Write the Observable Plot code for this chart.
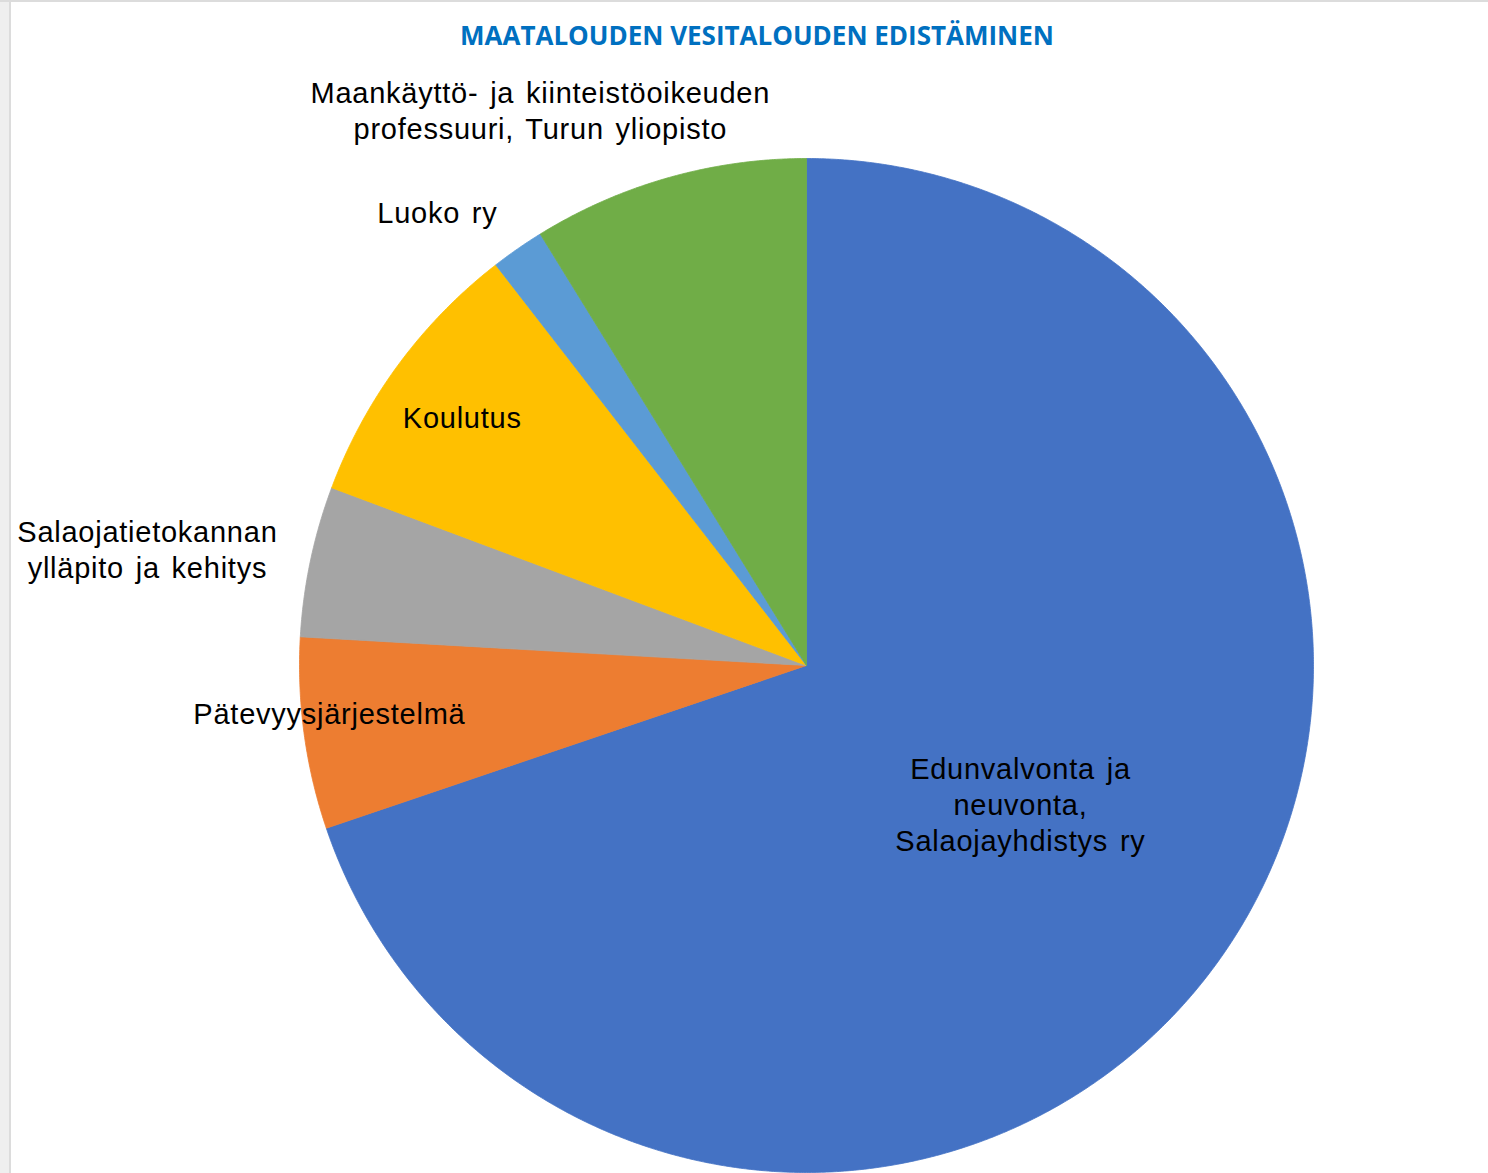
<!DOCTYPE html>
<html>
<head>
<meta charset="utf-8">
<script src="https://cdn.jsdelivr.net/npm/d3@7"></script>
<script src="https://cdn.jsdelivr.net/npm/@observablehq/plot@0.6"></script>
<style>
  html, body { margin: 0; padding: 0; background: #ffffff; }
  #page { position: relative; width: 1488px; height: 1173px; overflow: hidden; background: #ffffff; }
  #edgeLeft { position: absolute; left: 0; top: 0; width: 9px; height: 1173px; background: #efefef; border-right: 2px solid #dcdcdc; }
  #edgeTop { position: absolute; left: 0; top: 0; width: 1488px; height: 2px; background: #dcdcdc; }
  #title { position: absolute; left: 0; top: 0; width: 1488px; height: 70px; line-height: 70px; text-align: center;
           font-family: "Open Sans", "Liberation Sans", sans-serif; font-weight: 700; font-size: 26px; color: #0070C0;
           padding-left: 26px; box-sizing: border-box; }
  #chart { position: absolute; left: 0; top: 70px; }
  #chart g[aria-label="text"] text { letter-spacing: 0.75px; word-spacing: 3px; }
</style>
</head>
<body>
<div id="page">
  <div id="edgeLeft"></div>
  <div id="edgeTop"></div>
  <div id="title">MAATALOUDEN VESITALOUDEN EDISTÄMINEN</div>
  <div id="chart"></div>
</div>
<script>
// ---- data ----
const categories = [
  "Edunvalvonta ja neuvonta, Salaojayhdistys ry",
  "Pätevyysjärjestelmä",
  "Salaojatietokannan ylläpito ja kehitys",
  "Koulutus",
  "Luoko ry",
  "Maankäyttö- ja kiinteistöoikeuden professuuri, Turun yliopisto"
];
const values = [69.8, 6.1, 4.8, 8.8, 1.7, 8.8];
const labelText = [
  "Edunvalvonta ja\nneuvonta,\nSalaojayhdistys ry",
  "Pätevyysjärjestelmä",
  "Salaojatietokannan\nylläpito ja kehitys",
  "Koulutus",
  "Luoko ry",
  "Maankäyttö- ja kiinteistöoikeuden\nprofessuuri, Turun yliopisto"
];

// ---- styles / layout ----
const colors = ["#4472C4", "#ED7D31", "#A5A5A5", "#FFC000", "#5B9BD5", "#70AD47"];
const W = 1488, H = 1103;
const CX = 806, CY = 595, R = 507;         // pie centre and radius in SVG pixels
// label centres, in pie-radius units relative to the centre (y up)
const labelPos = [
  [0.422, -0.272],
  [-0.941, -0.093],
  [-1.300, 0.231],
  [-0.679, 0.491],
  [-0.728, 0.895],
  [-0.525, 1.097]
];

// ---- build slices with d3.pie ----
const table = categories.map((c, i) => ({cat: c, value: values[i]}));
const arcs = d3.pie().sort(null).value(d => d.value)(table);
const slicePts = [];
for (const a of arcs) {
  slicePts.push({cat: a.data.cat, x: 0, y: 0});
  const n = Math.max(8, Math.ceil((a.endAngle - a.startAngle) / 0.005));
  for (let k = 0; k <= n; k++) {
    const t = a.startAngle + (a.endAngle - a.startAngle) * k / n;
    slicePts.push({cat: a.data.cat, x: Math.sin(t), y: Math.cos(t)});
  }
  slicePts.push({cat: a.data.cat, x: 0, y: 0});
}
const ring = d3.range(0, 361, 1).map(d => ({x: Math.sin(d * Math.PI / 180), y: Math.cos(d * Math.PI / 180)}));
const labels = categories.map((c, i) => ({cat: c, text: labelText[i], x: labelPos[i][0], y: labelPos[i][1]}));

const chart = Plot.plot({
  width: W,
  height: H,
  margin: 0,
  x: {domain: [-CX / R, (W - CX) / R], axis: null},
  y: {domain: [-(H - CY) / R, CY / R], axis: null},
  color: {domain: categories, range: colors},
  style: {background: "transparent"},
  marks: [
    Plot.line(ring, {x: d => d.x * 1.006 + 0.005, y: d => d.y * 1.006 - 0.004, fill: "#000", fillOpacity: 0.55, stroke: "none", ariaLabel: "pie-shadow"}),
    Plot.line(slicePts, {x: "x", y: "y", z: "cat", fill: "cat", stroke: "cat", strokeWidth: 0.8}),
    Plot.text(labels, {x: "x", y: "y", text: "text", fill: "#000", fontSize: 29, lineHeight: 1.24,
      fontFamily: "Liberation Sans, Arial, sans-serif", textAnchor: "middle", lineAnchor: "middle"})
  ]
});
document.getElementById("chart").appendChild(chart);

// soft shadow filter for the pie, and text spacing like the original
const svgNode = chart.tagName.toLowerCase() === "svg" ? chart : chart.querySelector("svg");
const svg = d3.select(svgNode);
const defs = svg.insert("defs", ":first-child");
const f = defs.append("filter").attr("id", "pieShadow").attr("x", "-10%").attr("y", "-10%").attr("width", "120%").attr("height", "120%");
f.append("feGaussianBlur").attr("stdDeviation", 4);
svg.selectAll('[aria-label="pie-shadow"]').attr("filter", "url(#pieShadow)");
svg.selectAll('g[aria-label="text"] text').style("letter-spacing", "0.75px").style("word-spacing", "3px");
</script>
</body>
</html>
